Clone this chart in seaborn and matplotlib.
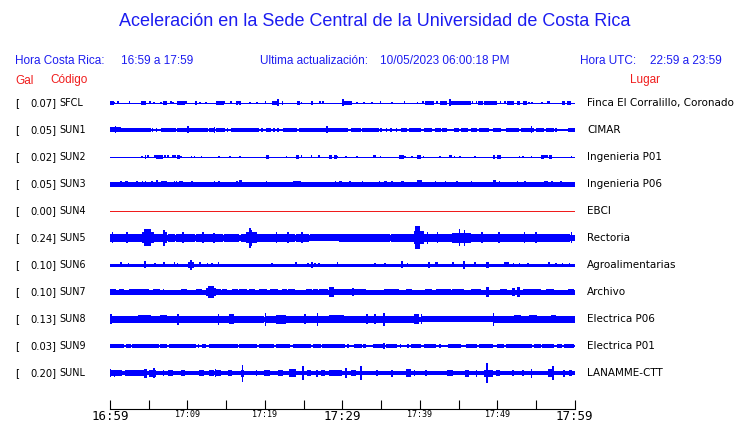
import matplotlib
matplotlib.use("Agg")
import matplotlib.pyplot as plt
import matplotlib.transforms as mtransforms
import pandas as pd
import seaborn as sns

# station info (top to bottom)
codes = ["SFCL", "SUN1", "SUN2", "SUN3", "SUN4", "SUN5", "SUN6", "SUN7", "SUN8", "SUN9", "SUNL"]
gal = ["0.07", "0.05", "0.02", "0.05", "0.00", "0.24", "0.10", "0.10", "0.13", "0.03", "0.20"]
places = ["Finca El Corralillo, Coronado", "CIMAR", "Ingenieria P01", "Ingenieria P06", "EBCI",
          "Rectoria", "Agroalimentarias", "Archivo", "Electrica P06", "Electrica P01", "LANAMME-CTT"]
# half width of the continuous noise band (trace units)
base_half = [0.5, 1.0, 0.5, 1.7, 0.5, 3.0, 1.5, 1.6, 2.4, 0.8, 2.0]

# minutes after 16:59
tick_min = list(range(0, 61, 5))
tick_lab = ["16:59", "", "17:09", "", "17:19", "", "17:29", "", "17:39", "", "17:49", "", "17:59"]

# bursts read from the record: (start minute, end minute, half amplitude)
sfcl = [(0.0, 0.4, 1.8), (0.5, 0.5, 1.2), (1.0, 1.0, 1.5), (2.5, 2.5, 1.5), (4.1, 4.5, 1.8), (5.2, 5.2, 1.5),
        (5.7, 5.7, 1.2), (6.6, 6.6, 1.2), (7.0, 7.2, 1.8), (7.9, 7.9, 1.5), (8.1, 8.1, 1.2), (8.7, 9.6, 1.8),
        (9.8, 9.8, 1.5), (11.1, 11.1, 1.8), (11.6, 11.6, 1.2), (12.4, 12.4, 1.0), (13.8, 14.6, 1.8),
        (14.8, 14.8, 1.5), (15.6, 15.6, 1.5), (16.4, 16.4, 1.8), (16.6, 16.6, 1.5), (16.8, 16.8, 1.8),
        (18.1, 18.1, 1.0), (19.0, 19.0, 1.0), (20.1, 20.1, 1.5), (21.0, 21.5, 1.8), (21.7, 21.7, 3.5),
        (22.3, 22.3, 1.8), (24.2, 24.4, 1.8), (24.7, 24.7, 1.2), (26.0, 26.1, 1.8), (27.1, 27.1, 1.5),
        (27.5, 27.5, 1.5), (30.1, 30.1, 3.5), (30.3, 31.2, 1.8), (31.9, 31.9, 1.0), (32.8, 32.8, 1.0),
        (33.8, 33.8, 1.2), (34.9, 34.9, 1.5), (36.4, 36.4, 1.0), (38.0, 38.0, 1.5), (39.7, 39.7, 1.0),
        (40.4, 40.4, 1.5), (40.8, 41.7, 1.8), (42.2, 42.2, 1.5), (42.7, 43.4, 1.8), (43.9, 43.9, 3.5),
        (44.1, 46.5, 1.8), (46.8, 46.8, 1.5), (47.3, 47.3, 1.5), (47.6, 48.0, 1.8), (48.4, 49.9, 1.8),
        (50.4, 50.4, 1.5), (51.0, 51.0, 1.5), (51.4, 52.1, 1.8), (52.6, 52.9, 1.8), (53.4, 53.7, 1.8),
        (54.1, 54.1, 1.2), (54.5, 54.5, 1.2), (55.8, 55.8, 1.0), (56.5, 56.5, 1.5), (56.7, 56.7, 1.5),
        (58.4, 58.7, 1.8), (59.1, 59.4, 1.8)]
sun1 = [(0.0, 1.3, 2.5), (0.7, 0.7, 3.5), (1.4, 5.2, 2.0), (5.5, 5.5, 2.0), (6.0, 6.0, 1.8), (6.7, 7.1, 2.2),
        (7.3, 8.4, 2.0), (8.8, 9.7, 2.2), (9.9, 11.2, 2.0), (10.1, 10.1, 3.5), (11.4, 12.5, 2.0),
        (12.9, 13.3, 2.0), (13.5, 13.5, 3.0), (13.8, 14.7, 2.0), (15.2, 15.2, 1.8), (15.7, 16.8, 2.0),
        (17.0, 19.1, 2.0), (19.6, 19.6, 1.8), (20.2, 20.7, 2.0), (21.2, 21.2, 1.8), (21.7, 21.7, 1.8),
        (22.4, 22.4, 1.8), (22.6, 24.1, 2.0), (24.5, 25.2, 2.0), (25.4, 27.3, 2.0), (27.5, 29.7, 2.0),
        (28.0, 28.0, 3.5), (29.7, 30.6, 2.0), (31.2, 32.3, 2.0), (32.7, 34.0, 2.0), (34.2, 34.6, 2.0),
        (35.0, 35.0, 1.8), (35.7, 35.7, 1.8), (36.3, 36.3, 1.8), (37.0, 37.0, 1.8), (37.7, 38.3, 2.0),
        (38.7, 40.0, 2.0), (40.7, 41.5, 2.2), (42.0, 42.6, 2.0), (43.0, 43.4, 2.0), (44.5, 45.0, 2.0),
        (45.4, 46.1, 2.0), (46.7, 47.3, 2.0), (47.8, 48.8, 2.2), (49.5, 50.4, 2.0), (51.2, 52.7, 2.2),
        (53.2, 53.6, 2.0), (53.8, 54.6, 2.2), (54.4, 54.4, 3.5), (55.1, 55.9, 2.0), (56.4, 57.2, 2.0),
        (57.6, 57.6, 1.8), (59.2, 60.0, 2.2)]
sun2 = [(4.1, 4.1, 1.0), (4.6, 4.6, 2.0), (4.9, 4.9, 1.5), (5.8, 5.8, 1.5), (6.0, 6.8, 2.0), (7.1, 7.1, 1.5),
        (7.5, 7.5, 1.5), (8.1, 8.4, 1.5), (8.8, 9.0, 1.8), (9.2, 9.2, 1.2), (10.5, 10.5, 1.0), (10.9, 10.9, 1.2),
        (11.8, 11.8, 1.2), (14.1, 14.1, 1.0), (15.5, 15.5, 1.0), (16.8, 16.8, 1.2), (20.2, 20.4, 2.0),
        (22.8, 22.8, 1.0), (24.1, 24.3, 2.0), (24.7, 24.7, 1.5), (26.0, 26.0, 1.5), (27.0, 27.0, 1.5),
        (28.4, 28.6, 1.8), (29.0, 29.2, 1.8), (29.4, 29.4, 1.2), (30.5, 30.5, 1.0), (31.9, 31.9, 1.2),
        (34.0, 34.3, 1.5), (34.9, 34.9, 1.2), (37.4, 37.9, 1.8), (38.1, 38.1, 1.2), (39.0, 39.0, 1.2),
        (39.8, 40.0, 1.8), (40.5, 40.5, 1.2), (42.6, 42.6, 1.0), (43.9, 44.1, 1.5), (44.5, 44.5, 1.2),
        (45.2, 45.2, 1.0), (47.1, 47.1, 1.0), (49.5, 49.6, 2.0), (50.1, 50.4, 1.8), (52.9, 52.9, 1.2),
        (53.3, 53.3, 1.0), (54.4, 54.4, 1.0), (55.7, 55.9, 1.8), (56.2, 56.4, 1.5), (56.8, 57.0, 1.8),
        (59.6, 59.6, 1.2)]
sun3 = [(1.4, 1.4, 2.8), (2.1, 2.2, 3.0), (3.5, 3.5, 2.5), (4.2, 4.2, 2.5), (4.6, 4.6, 2.5), (5.4, 5.4, 2.5),
        (6.1, 6.1, 3.5), (6.7, 7.1, 3.0), (7.3, 7.3, 2.5), (8.3, 8.3, 2.5), (8.6, 8.6, 2.5), (9.0, 9.3, 3.0),
        (10.6, 10.6, 2.8), (13.5, 13.5, 2.5), (14.1, 14.1, 2.5), (16.4, 16.4, 2.5), (16.7, 16.9, 3.5),
        (20.2, 20.2, 2.5), (23.7, 24.5, 3.0), (29.1, 29.1, 2.5), (29.7, 29.9, 3.0), (31.0, 31.0, 2.5),
        (32.6, 32.6, 2.5), (34.8, 34.8, 2.5), (35.5, 35.7, 2.8), (36.4, 36.4, 2.5), (37.7, 37.9, 3.0),
        (39.8, 40.2, 3.5), (42.0, 42.0, 2.5), (43.3, 43.3, 2.5), (44.8, 44.8, 2.5), (46.7, 46.7, 2.5),
        (49.5, 49.7, 3.5), (50.3, 50.3, 2.8), (52.6, 52.6, 2.5), (53.6, 53.6, 2.5), (56.2, 56.4, 3.0),
        (57.1, 57.1, 3.0), (58.2, 58.2, 2.5)]
sun4 = []
sun5 = [(0.0, 1.3, 4.0), (0.3, 0.3, 5.5), (1.5, 3.4, 4.0), (2.2, 2.2, 5.5), (3.6, 4.4, 3.8), (4.2, 5.6, 5.5),
        (4.5, 5.2, 8.5), (5.8, 6.9, 4.0), (6.9, 7.3, 5.5), (7.0, 7.0, 8.0), (7.6, 8.3, 3.8), (8.6, 10.9, 4.0),
        (9.4, 9.4, 5.5), (11.2, 14.5, 4.0), (12.0, 12.0, 5.5), (13.4, 13.4, 5.0), (14.8, 16.6, 3.8),
        (17.0, 17.5, 4.0), (17.6, 18.9, 5.5), (18.0, 18.2, 8.0), (18.1, 18.1, 10.0), (19.1, 20.5, 4.0),
        (20.8, 23.8, 4.0), (21.5, 21.5, 5.5), (23.0, 23.0, 5.5), (24.1, 25.6, 4.0), (24.8, 24.8, 5.5),
        (25.9, 29.7, 3.5), (29.7, 32.3, 4.0), (32.5, 36.0, 3.8), (36.4, 39.3, 3.8), (39.3, 40.4, 6.5),
        (39.5, 39.9, 11.5), (40.4, 44.0, 4.0), (41.0, 41.0, 6.0), (42.3, 42.3, 5.5), (44.2, 46.5, 5.0),
        (45.1, 45.1, 8.5), (45.8, 45.8, 8.0), (46.5, 52.0, 4.0), (48.0, 48.0, 5.5), (50.2, 50.2, 5.5),
        (52.0, 56.5, 4.0), (53.5, 53.5, 5.5), (55.0, 55.0, 5.5), (56.5, 59.3, 3.8), (59.6, 59.6, 5.5)]
sun6 = [(1.4, 1.4, 2.5), (2.4, 2.4, 2.0), (4.5, 4.5, 3.5), (5.8, 5.8, 2.0), (7.0, 7.0, 2.5), (8.3, 8.3, 2.5),
        (8.7, 8.7, 2.0), (10.2, 10.7, 3.0), (10.4, 10.5, 5.0), (11.6, 11.6, 2.5), (12.6, 12.6, 2.0),
        (13.2, 13.2, 2.0), (14.0, 14.0, 2.5), (20.9, 20.9, 2.0), (24.0, 24.0, 2.5), (25.6, 25.6, 2.0),
        (26.1, 26.1, 3.0), (26.5, 26.5, 2.0), (27.0, 27.0, 2.0), (29.4, 29.4, 2.5), (34.2, 34.2, 2.0),
        (35.5, 35.5, 2.0), (37.7, 37.7, 3.5), (38.4, 38.4, 2.0), (41.2, 41.2, 3.0), (42.0, 42.3, 2.5),
        (44.3, 44.3, 2.5), (45.7, 45.7, 4.0), (47.1, 47.1, 2.5), (48.6, 48.8, 3.0), (51.0, 51.4, 2.5),
        (52.1, 52.1, 2.0), (52.9, 52.9, 2.0), (54.0, 54.0, 2.0), (56.7, 56.7, 2.5), (57.6, 57.6, 2.0),
        (58.4, 58.4, 2.0), (59.3, 59.3, 2.0)]
sun7 = [(0.0, 0.7, 2.8), (1.3, 1.7, 2.5), (2.5, 3.5, 3.0), (3.6, 4.5, 2.8), (4.7, 5.0, 2.5), (5.7, 6.3, 2.5),
        (6.9, 6.9, 2.5), (9.3, 9.9, 3.0), (11.2, 11.6, 2.5), (11.8, 11.8, 2.5), (12.5, 13.6, 3.5),
        (12.7, 13.3, 5.8), (13.6, 14.2, 3.0), (14.6, 15.0, 2.5), (15.9, 16.4, 3.0), (16.8, 17.6, 2.5),
        (18.0, 18.6, 2.5), (19.4, 20.2, 3.0), (20.8, 21.6, 2.5), (22.3, 22.7, 2.5), (23.1, 23.8, 2.5),
        (25.4, 26.0, 2.8), (26.3, 26.7, 2.5), (27.1, 28.0, 2.8), (28.4, 28.8, 5.0), (29.0, 29.7, 2.5),
        (29.7, 33.0, 2.8), (31.4, 31.4, 3.5), (32.9, 32.9, 3.0), (35.5, 37.2, 2.8), (38.3, 38.9, 3.0),
        (40.8, 41.5, 3.0), (42.2, 43.9, 2.8), (44.3, 45.6, 3.0), (46.7, 47.8, 2.8), (48.6, 48.8, 5.0),
        (50.4, 51.2, 2.8), (52.0, 52.2, 4.0), (52.7, 52.9, 5.0), (53.4, 55.6, 2.8), (56.4, 57.2, 2.8),
        (59.2, 59.8, 3.0)]
sun8 = [(0.0, 0.2, 5.0), (0.2, 3.6, 3.5), (3.7, 5.2, 4.2), (5.4, 6.3, 3.5), (6.5, 7.3, 4.0), (7.5, 8.6, 3.5),
        (8.8, 8.8, 5.5), (9.0, 13.8, 3.5), (14.0, 14.0, 5.5), (14.2, 15.3, 3.5), (15.5, 15.9, 5.0),
        (16.1, 19.8, 3.5), (20.1, 20.1, 6.5), (20.3, 21.3, 3.5), (21.5, 22.6, 4.5), (22.8, 25.0, 3.5),
        (25.2, 25.2, 4.8), (25.4, 26.6, 3.5), (26.8, 26.8, 6.5), (27.0, 28.3, 3.5), (28.4, 30.1, 4.2),
        (30.3, 33.0, 3.5), (33.2, 33.2, 5.0), (33.4, 39.2, 3.5), (34.2, 34.2, 5.0), (35.4, 35.4, 6.5),
        (39.4, 39.8, 5.0), (40.2, 40.2, 5.0), (40.4, 49.3, 3.3), (49.5, 49.5, 6.5), (49.7, 52.0, 3.5),
        (52.2, 53.0, 4.0), (53.2, 54.0, 3.5), (54.2, 55.0, 4.0), (55.2, 57.0, 3.5), (57.1, 57.5, 4.0),
        (57.7, 60.0, 3.5)]
sun9 = [(0.0, 1.7, 1.7), (2.2, 2.6, 1.7), (3.0, 6.2, 1.7), (6.5, 7.3, 1.7), (7.7, 9.9, 1.7), (10.1, 11.0, 1.7),
        (11.4, 11.4, 1.7), (12.0, 12.3, 1.7), (12.9, 13.8, 1.7), (14.0, 16.4, 1.7), (16.8, 17.9, 1.7),
        (18.1, 18.9, 1.7), (19.4, 21.1, 1.7), (21.5, 23.2, 1.7), (23.7, 25.8, 1.7), (26.3, 27.1, 1.7),
        (27.5, 30.3, 1.7), (30.7, 30.7, 1.7), (31.6, 32.5, 1.7), (32.8, 33.0, 1.7), (34.0, 35.1, 1.7),
        (35.4, 35.4, 3.0), (35.7, 37.0, 1.7), (37.5, 37.5, 1.7), (38.5, 38.5, 1.7), (38.9, 40.0, 1.7),
        (40.7, 42.0, 1.7), (42.6, 42.6, 1.7), (43.7, 45.2, 1.7), (46.1, 47.3, 1.7), (47.8, 48.6, 1.7),
        (48.8, 49.4, 1.7), (50.1, 50.8, 1.7), (51.2, 52.0, 1.7), (52.3, 54.4, 1.7), (54.9, 55.5, 1.7),
        (55.9, 57.2, 1.7), (57.8, 58.2, 1.7), (58.7, 59.8, 1.7)]
sunl = [(0.0, 0.0, 4.0), (0.0, 1.5, 3.0), (0.6, 0.6, 3.5), (2.0, 3.5, 2.8), (3.6, 4.4, 3.0), (4.5, 4.7, 4.5),
        (5.2, 5.8, 3.5), (5.7, 5.7, 5.0), (6.9, 6.9, 3.0), (7.6, 8.0, 2.8), (9.3, 9.6, 2.8), (11.6, 12.0, 2.8),
        (12.9, 13.3, 3.0), (13.6, 13.6, 4.0), (13.8, 14.2, 3.0), (15.3, 15.6, 2.8), (17.0, 17.2, 3.5),
        (17.1, 17.1, 8.5), (18.9, 18.9, 3.0), (20.0, 20.5, 2.8), (21.8, 22.2, 2.8), (23.2, 23.9, 4.0),
        (24.9, 24.9, 7.0), (25.5, 25.9, 2.8), (26.7, 26.7, 3.5), (27.3, 27.7, 2.8), (28.4, 29.8, 3.0),
        (30.5, 30.5, 5.0), (31.2, 31.6, 3.0), (32.4, 32.4, 7.0), (34.5, 34.5, 3.0), (36.4, 36.4, 3.5),
        (38.3, 38.7, 4.0), (39.3, 39.3, 3.0), (40.8, 40.8, 3.0), (43.6, 44.2, 3.0), (46.0, 46.3, 3.5),
        (47.3, 47.3, 3.5), (48.4, 49.3, 3.5), (48.7, 48.7, 10.0), (50.0, 50.2, 3.0), (52.0, 52.0, 3.0),
        (53.3, 53.3, 3.0), (54.4, 54.4, 4.5), (56.6, 57.0, 4.0), (57.2, 57.2, 7.0), (58.6, 58.6, 3.5),
        (59.3, 59.6, 3.0)]
bursts = [sfcl, sun1, sun2, sun3, sun4, sun5, sun6, sun7, sun8, sun9, sunl]

BLUE = "#0000ff"
TXT_BLUE = "#1c1cf0"
RED = "#f01c1c"
spacing = 27

sns.set_style("white")
plt.rcParams["font.family"] = ["Liberation Sans", "DejaVu Sans"]

W, H = 740, 423
fig = plt.figure(figsize=(W / 100, H / 100), dpi=100)
ax = fig.add_axes([110 / W, (H - 409) / H, 464.7 / W, 321 / H])

# baselines with seaborn
rows = []
for i, c in enumerate(codes):
    for t in (0, 60):
        rows.append({"t": t, "y": -spacing * i, "code": c})
df = pd.DataFrame(rows)
pal = {c: (RED if c == "SUN4" else BLUE) for c in codes}
sizes = {c: max(2 * b, 1.0) * 0.72 for c, b in zip(codes, base_half)}
sns.lineplot(data=df, x="t", y="y", hue="code", size="code", sizes=sizes, palette=pal,
             estimator=None, legend=False, ax=ax, antialiased=False, solid_capstyle="butt")

# bursts
for i, bl in enumerate(bursts):
    y0 = -spacing * i
    for t0, t1, h in bl:
        ax.fill_between([t0 - 0.1, t1 + 0.1], y0 - h, y0 + h, color=BLUE, lw=0, antialiased=False)

ax.set_xlim(0, 60)
ax.set_ylim(-306, 15)
for s in ["left", "right", "top"]:
    ax.spines[s].set_visible(False)
ax.spines["bottom"].set_color("black")
ax.spines["bottom"].set_linewidth(0.8)
ax.set_yticks([])
ax.set_xticks(tick_min)
ax.set_xticklabels(tick_lab)
ax.tick_params(axis="x", bottom=True, direction="in", length=6.5, width=0.8, pad=1, colors="black")
for lab, txt in zip(ax.get_xticklabels(), tick_lab):
    lab.set_fontfamily("DejaVu Sans Mono")
    lab.set_fontsize(9 if txt in ("16:59", "17:29", "17:59") else 6)
ax.set_xlabel("")
ax.set_ylabel("")

# station labels
tr = mtransforms.blended_transform_factory(fig.transFigure, ax.transData)
for i in range(len(codes)):
    y0 = -spacing * i
    ax.text(15 / W, y0, "[", transform=tr, va="center", ha="left", fontsize=7.5, color="black",
            family="DejaVu Sans")
    ax.text(56.7 / W, y0, gal[i] + "]", transform=tr, va="center", ha="right", fontsize=7.2,
            color="black", family="DejaVu Sans")
    ax.text(59.3 / W, y0, codes[i], transform=tr, va="center", ha="left", fontsize=6.9,
            color="black", family="DejaVu Sans")
    ax.text(587 / W, y0, places[i], transform=tr, va="center", ha="left", fontsize=7.5,
            color="black", family="DejaVu Sans", clip_on=False)

# header
def fy(y):
    return 1 - y / H

fig.text(375 / W, fy(22), "Aceleración en la Sede Central de la Universidad de Costa Rica",
         ha="center", va="center", fontsize=13, color=TXT_BLUE)
fig.text(15 / W, fy(61), "Hora Costa Rica:", va="center", fontsize=8.5, color=TXT_BLUE)
fig.text(120.7 / W, fy(61), "16:59 a 17:59", va="center", fontsize=8.5, color=TXT_BLUE)
fig.text(260 / W, fy(61), "Ultima actualización:", va="center", fontsize=8.5, color=TXT_BLUE)
fig.text(380 / W, fy(61), "10/05/2023 06:00:18 PM", va="center", fontsize=8.5, color=TXT_BLUE)
fig.text(580 / W, fy(61), "Hora UTC:", va="center", fontsize=8.5, color=TXT_BLUE)
fig.text(650 / W, fy(61), "22:59 a 23:59", va="center", fontsize=8.5, color=TXT_BLUE)
fig.text(15 / W, fy(80.5), "Gal", va="center", fontsize=8.5, color=RED)
fig.text(50 / W, fy(80.5), "Código", va="center", fontsize=8.5, color=RED)
fig.text(630 / W, fy(80.5), "Lugar", va="center", fontsize=8.5, color=RED)

fig.savefig("out.png", dpi=100)
